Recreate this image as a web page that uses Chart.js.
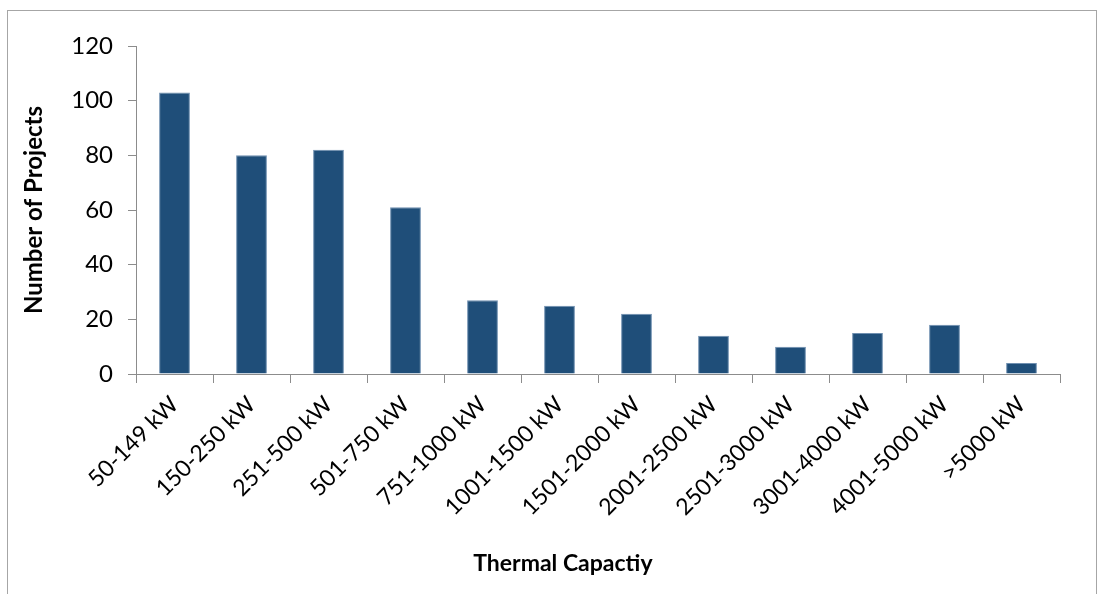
<!DOCTYPE html>
<html>
<head>
<meta charset="utf-8">
<script src="https://cdn.jsdelivr.net/npm/chart.js@4.4.0/dist/chart.umd.min.js"></script>
<style>
  html, body { margin: 0; padding: 0; background: #fff; }
  #wrap { position: relative; width: 1100px; height: 594px; }
  #frame { position: absolute; left: 7px; top: 10px; width: 1090px; height: 600px; border: 1px solid #a6a6a6; box-sizing: border-box; }
  canvas { position: absolute; left: 0; top: 0; }
</style>
</head>
<body>
<div id="wrap">
  <div id="frame"></div>
  <canvas id="chart" width="1100" height="594"></canvas>
</div>
<script>
// Datos
const categories = ['50-149 kW', '150-250 kW', '251-500 kW', '501-750 kW', '751-1000 kW', '1001-1500 kW',
    '1501-2000 kW', '2001-2500 kW', '2501-3000 kW', '3001-4000 kW', '4001-5000 kW', '>5000 kW'];
const projects = [103, 80, 82, 61, 27, 25, 22, 14, 10, 15, 18, 4];
const yTicks = [0, 20, 40, 60, 80, 100, 120];
const xTitle = 'Thermal Capactiy';

const fontFamily = 'Lato, "Open Sans", sans-serif';
const axisColor = '#8c8c8c';

// Título del eje X, algo desplazado a la izquierda como en el original
const xTitlePlugin = {
    id: 'xTitle',
    afterDraw(chart) {
        const c = chart.ctx;
        const area = chart.chartArea;
        c.save();
        c.font = `bold 23px ${fontFamily}`;
        c.fillStyle = '#000';
        c.textAlign = 'center';
        c.textBaseline = 'middle';
        c.fillText(xTitle, area.left + (area.right - area.left) * 0.462, 564);
        c.restore();
    }
};

const ctx = document.getElementById('chart').getContext('2d');
new Chart(ctx, {
    type: 'bar',
    data: {
        labels: categories,
        datasets: [{
            label: 'Number of Projects',
            data: projects,
            backgroundColor: '#1f4e79',
            borderColor: '#6f8fb0',
            borderWidth: 1,
            barPercentage: 0.4,
            categoryPercentage: 1.0
        }]
    },
    options: {
        responsive: false,
        animation: false,
        layout: { padding: { left: 0, top: 46, right: 40, bottom: 14 } },
        plugins: {
            legend: { display: false },
            tooltip: { enabled: false }
        },
        scales: {
            x: {
                grid: { drawOnChartArea: false, drawTicks: true, tickLength: 9, color: axisColor, offset: true },
                border: { color: axisColor, width: 1 },
                ticks: {
                    color: '#000',
                    font: { family: fontFamily, size: 23 },
                    minRotation: 45,
                    maxRotation: 45,
                    padding: 8,
                    autoSkip: false
                },
                afterFit: scale => { scale.height = 206; }
            },
            y: {
                min: 0,
                max: 120,
                afterBuildTicks: scale => { scale.ticks = yTicks.map(v => ({ value: v })); },
                grid: { drawOnChartArea: false, drawTicks: true, tickLength: 8, color: axisColor },
                border: { color: axisColor, width: 1 },
                ticks: {
                    color: '#000',
                    font: { family: fontFamily, size: 24 },
                    padding: 15
                },
                title: {
                    display: true,
                    text: 'Number of Projects',
                    color: '#000',
                    font: { family: fontFamily, size: 24, weight: 'bold' },
                    padding: { top: 20, bottom: 8 }
                },
                afterFit: scale => { scale.width = 136; }
            }
        }
    },
    plugins: [xTitlePlugin]
});
</script>
</body>
</html>
